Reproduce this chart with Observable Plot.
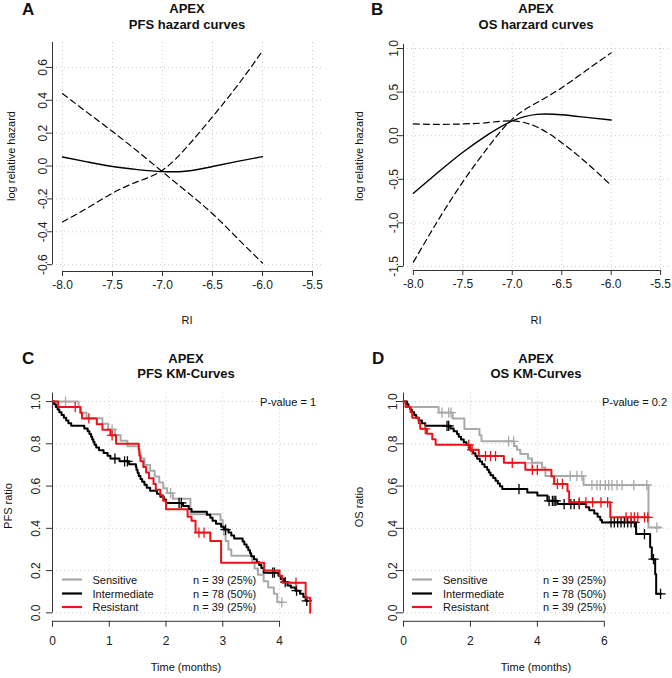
<!DOCTYPE html>
<html><head><meta charset="utf-8">
<script src="https://cdn.jsdelivr.net/npm/d3@7"></script>
<script src="https://cdn.jsdelivr.net/npm/@observablehq/plot@0.6"></script>
<style>
body{margin:0;background:#fff;}
#fig{position:relative;width:672px;height:678px;font-family:"Liberation Sans",Arial,sans-serif;}
.pw{position:absolute;}
.pw svg{display:block;}
#overlay{position:absolute;left:0;top:0;pointer-events:none;}
</style></head><body><div id="fig"></div>
<script>
// ---------- data ----------
const riGrid = [-8, -7.75, -7.5, -7.25, -7.0, -6.75, -6.5, -6.25, -6.0];
const pfsHazFit      = [0.055, 0.025, -0.003, -0.022, -0.034, -0.03, -0.003, 0.028, 0.057];
const pfsHazBandDown = [0.44, 0.325, 0.21, 0.09, -0.035, -0.16, -0.29, -0.44, -0.59];
const pfsHazBandUp   = [-0.34, -0.255, -0.165, -0.095, -0.025, 0.12, 0.30, 0.49, 0.70];
const osHazFit       = [-0.66, -0.42, -0.19, 0.01, 0.17, 0.245, 0.24, 0.21, 0.18];
const osHazBandFlat  = [0.135, 0.13, 0.135, 0.15, 0.17, 0.10, -0.08, -0.31, -0.57];
const osHazBandSteep = [-1.45, -0.97, -0.53, -0.14, 0.19, 0.38, 0.55, 0.75, 0.95];

const riTicks = [-8, -7.5, -7, -6.5, -6, -5.5];
const pfsHazTicks = [-0.6, -0.4, -0.2, 0, 0.2, 0.4, 0.6];
const osHazTicks = [-1.5, -1, -0.5, 0, 0.5, 1];
const survTicks = [0, 0.2, 0.4, 0.6, 0.8, 1];
const pfsTimeTicks = [0, 1, 2, 3, 4];
const osTimeTicks = [0, 2, 4, 6];

const groups = ["Sensitive", "Intermediate", "Resistant"];
const groupN = ["n = 39 (25%)", "n = 78 (50%)", "n = 39 (25%)"];

// PFS Kaplan-Meier (months, survival)
const pfsSensTime = [0, 0.46, 0.5, 0.6, 0.88, 0.98, 1.1, 1.2, 1.32, 1.52, 1.55, 1.62, 1.72, 1.8, 1.88, 1.95, 2.02, 2.12, 2.43, 2.96, 3.0, 3.02, 3.05, 3.1, 3.15, 3.52, 3.56, 3.62, 3.72, 3.8, 3.9, 3.96, 4.06];
const pfsSensSurv = [1, 0.974, 0.947, 0.921, 0.895, 0.868, 0.842, 0.815, 0.789, 0.76, 0.73, 0.70, 0.672, 0.645, 0.617, 0.59, 0.567, 0.54, 0.467, 0.44, 0.40, 0.37, 0.34, 0.30, 0.27, 0.24, 0.21, 0.18, 0.15, 0.12, 0.09, 0.05, 0.05];
const pfsSensCens = [0.23, 1.05, 2.08, 4.04];

const pfsIntTime = [0, 0.03, 0.06, 0.09, 0.12, 0.16, 0.2, 0.24, 0.28, 0.33, 0.56, 0.62, 0.65, 0.68, 0.7, 0.72, 0.74, 0.77, 0.82, 0.9, 0.97, 1.02, 1.18, 1.35, 1.47, 1.48, 1.5, 1.52, 1.55, 1.58, 1.62, 1.66, 1.72, 1.84, 1.9, 1.96, 2.0, 2.3, 2.4, 2.45, 2.72, 2.78, 2.82, 2.88, 2.97, 3.02, 3.1, 3.15, 3.2, 3.35, 3.38, 3.42, 3.45, 3.48, 3.5, 3.55, 3.6, 3.64, 3.68, 3.72, 3.98, 4.02, 4.08, 4.14, 4.2, 4.28, 4.36, 4.42, 4.46, 4.5];
const pfsIntSurv = [1, 0.987, 0.974, 0.962, 0.949, 0.936, 0.923, 0.91, 0.897, 0.885, 0.872, 0.859, 0.846, 0.833, 0.82, 0.808, 0.795, 0.782, 0.769, 0.756, 0.743, 0.73, 0.717, 0.703, 0.69, 0.676, 0.662, 0.648, 0.634, 0.62, 0.606, 0.592, 0.578, 0.564, 0.55, 0.536, 0.52, 0.506, 0.492, 0.478, 0.464, 0.45, 0.436, 0.422, 0.408, 0.394, 0.38, 0.366, 0.352, 0.338, 0.324, 0.31, 0.296, 0.282, 0.268, 0.254, 0.24, 0.226, 0.212, 0.19, 0.175, 0.16, 0.145, 0.13, 0.12, 0.105, 0.09, 0.075, 0.057, 0.057];
const pfsIntCens = [1.1, 1.27, 1.32, 2.23, 2.27, 3.05, 3.88, 3.91, 4.1, 4.3, 4.48];

const pfsResTime = [0, 0.1, 0.49, 0.52, 0.78, 0.88, 1.02, 1.12, 1.52, 1.53, 1.55, 1.6, 1.65, 1.7, 1.78, 1.82, 1.9, 1.95, 2.0, 2.38, 2.45, 2.52, 2.78, 2.97, 3.73, 4.0, 4.05, 4.46, 4.54];
const pfsResSurv = [1, 0.974, 0.947, 0.92, 0.893, 0.866, 0.84, 0.80, 0.773, 0.745, 0.718, 0.69, 0.664, 0.637, 0.61, 0.583, 0.556, 0.53, 0.49, 0.455, 0.436, 0.38, 0.34, 0.237, 0.20, 0.175, 0.143, 0.071, 0];
const pfsResCens = [0.4, 0.64, 1.05, 2.58, 2.67, 4.29];

// OS Kaplan-Meier (months, survival)
const osSensTime = [0, 0.12, 1.05, 1.47, 1.82, 2.27, 2.33, 3.3, 3.39, 3.49, 3.72, 3.84, 4.14, 4.24, 5.38, 7.32, 7.68];
const osSensSurv = [1, 0.974, 0.948, 0.92, 0.87, 0.84, 0.812, 0.79, 0.772, 0.752, 0.73, 0.71, 0.688, 0.648, 0.605, 0.404, 0.404];
const osSensCens = [1.15, 1.35, 1.42, 3.14, 3.29, 3.84, 4.98, 5.18, 5.33, 5.63, 5.78, 5.88, 6.03, 6.13, 6.23, 6.38, 6.53, 6.88, 7.27, 7.57];

const osIntTime = [0, 0.1, 0.15, 0.2, 0.25, 0.32, 0.38, 0.45, 0.55, 0.65, 1.4, 1.5, 1.6, 1.65, 1.72, 1.8, 1.88, 1.95, 2.0, 2.08, 2.15, 2.2, 2.28, 2.35, 2.42, 2.5, 2.55, 2.6, 2.68, 2.75, 2.82, 2.88, 2.95, 3.7, 4.0, 4.3, 4.6, 5.45, 5.55, 5.7, 5.8, 5.88, 5.93, 6.95, 7.37, 7.42, 7.52, 7.55, 7.7];
const osIntSurv = [1, 0.987, 0.974, 0.962, 0.949, 0.936, 0.923, 0.91, 0.897, 0.885, 0.872, 0.859, 0.846, 0.833, 0.82, 0.807, 0.794, 0.781, 0.768, 0.755, 0.742, 0.729, 0.716, 0.703, 0.69, 0.677, 0.664, 0.651, 0.638, 0.625, 0.612, 0.599, 0.586, 0.57, 0.555, 0.53, 0.515, 0.5, 0.485, 0.47, 0.455, 0.44, 0.428, 0.373, 0.31, 0.254, 0.183, 0.09, 0.09];
const osIntCens = [1.3, 1.35, 3.45, 4.35, 4.45, 4.5, 4.55, 4.8, 5.0, 5.1, 5.25, 6.2, 6.3, 6.4, 6.5, 6.6, 6.7, 6.8, 6.9, 7.2, 7.47, 7.68];

const osResTime = [0, 0.06, 0.21, 0.26, 0.46, 0.5, 0.7, 0.86, 0.96, 2.0, 2.25, 3.0, 3.64, 4.42, 4.5, 4.9, 4.95, 6.18, 7.35];
const osResSurv = [1, 0.974, 0.949, 0.923, 0.897, 0.871, 0.848, 0.822, 0.795, 0.772, 0.742, 0.71, 0.677, 0.645, 0.61, 0.575, 0.523, 0.452, 0.452];
const osResCens = [0.65, 1.95, 2.05, 2.45, 2.6, 2.75, 3.25, 3.85, 4.0, 4.6, 4.75, 5.25, 5.45, 5.65, 5.9, 6.1, 6.65, 6.8, 6.9, 7.0, 7.2, 7.3];

// ---------- styles ----------
const FONT = '"Liberation Sans", Arial, Helvetica, sans-serif';
const groupColors = ["#a9a9a9", "#000000", "#e8141a"];
const gridStyle = {stroke: "#cccccc", strokeOpacity: 1, strokeDasharray: "1,3"};
const axisColor = "#333333";

const ext = (lo, hi) => [lo - 0.04 * (hi - lo), hi + 0.04 * (hi - lo)];
const fmt1 = d => d.toFixed(1);

function hazardPanel(o) {
  const all = [...o.fit, ...o.bandA, ...o.bandB];
  const yDom = ext(d3.min(all), d3.max(all));
  const xDom = ext(riTicks[0], riTicks[riTicks.length - 1]);
  const pts = vals => riGrid.map((x, i) => ({x, y: vals[i]}));
  return Plot.plot({
    width: 336, height: o.height,
    marginLeft: o.ml, marginRight: o.mr, marginTop: o.mt, marginBottom: o.mb,
    x: {domain: xDom, label: null},
    y: {domain: yDom, label: null},
    style: {fontFamily: FONT, fontSize: "12px", color: "#222", background: "transparent", overflow: "visible"},
    marks: [
      Plot.gridX(riTicks, gridStyle),
      Plot.gridY(o.yTicks, gridStyle),
      Plot.ruleY([yDom[0]], {x1: riTicks[0], x2: riTicks[riTicks.length - 1], stroke: axisColor}),
      Plot.ruleX([xDom[0]], {y1: o.yTicks[0], y2: yDom[1], stroke: axisColor}),
      Plot.axisX(riTicks, {tickSize: 5, tickPadding: o.xPad, tickFormat: fmt1, label: null, stroke: axisColor}),
      Plot.axisY(o.yTicks, {tickSize: 5, tickRotate: -90, tickPadding: o.yPad, tickFormat: fmt1, label: null, stroke: axisColor}),
      Plot.line(pts(o.bandA), {x: "x", y: "y", curve: "natural", stroke: "#000", strokeWidth: 1.2, strokeDasharray: "6,4"}),
      Plot.line(pts(o.bandB), {x: "x", y: "y", curve: "natural", stroke: "#000", strokeWidth: 1.2, strokeDasharray: "6,4"}),
      Plot.line(pts(o.fit), {x: "x", y: "y", curve: "natural", stroke: "#000", strokeWidth: 1.4})
    ]
  });
}

function survAt(times, surv, t) {
  const i = Math.max(0, d3.bisectRight(times, t) - 1);
  return surv[i];
}

function kmPanel(o) {
  const tMax = d3.max(o.series, s => d3.max(s.time));
  const xDom = [0, tMax * 1.04];
  const yDom = ext(0, 1);
  const marks = [
    Plot.gridX(o.xTicks, gridStyle),
    Plot.gridY(survTicks, gridStyle),
    Plot.ruleY([yDom[0]], {x1: o.xTicks[0], x2: o.xTicks[o.xTicks.length - 1], stroke: axisColor}),
    Plot.ruleX([xDom[0]], {y1: survTicks[0], y2: yDom[1], stroke: axisColor}),
    Plot.axisX(o.xTicks, {tickSize: 6, tickPadding: o.xPad, tickFormat: d => String(d), label: null, stroke: axisColor}),
    Plot.axisY(survTicks, {tickSize: 6, tickRotate: -90, tickPadding: o.yPad, tickFormat: fmt1, label: null, stroke: axisColor})
  ];
  o.series.forEach((s, k) => {
    const pts = s.time.map((t, i) => ({t, s: s.surv[i]}));
    marks.push(Plot.line(pts, {x: "t", y: "s", curve: "step-after", stroke: groupColors[k], strokeWidth: 2}));
    const cens = s.cens.map(t => ({t, s: survAt(s.time, s.surv, t)}));
    marks.push(Plot.dot(cens, {x: "t", y: "s", symbol: "plus", r: 3.4, stroke: groupColors[k], strokeWidth: 1.3}));
  });
  return Plot.plot({
    width: 336, height: 348,
    marginLeft: o.ml, marginRight: o.mr, marginTop: 62.6, marginBottom: 57.2,
    x: {domain: xDom, label: null},
    y: {domain: yDom, label: null},
    style: {fontFamily: FONT, fontSize: "12px", color: "#222", background: "transparent", overflow: "visible"},
    marks
  });
}

const fig = document.getElementById("fig");
function place(svg, left, top) {
  const d = document.createElement("div");
  d.className = "pw"; d.style.left = left + "px"; d.style.top = top + "px";
  d.appendChild(svg); fig.appendChild(d);
}

place(hazardPanel({fit: pfsHazFit, bandA: pfsHazBandDown, bandB: pfsHazBandUp, yTicks: pfsHazTicks,
  height: 330, ml: 52, mr: 14, mt: 42, mb: 59, xPad: 4, yPad: 0.5}), 0, 0);
place(hazardPanel({fit: osHazFit, bandA: osHazBandFlat, bandB: osHazBandSteep, yTicks: osHazTicks,
  height: 330, ml: 67, mr: 2, mt: 44, mb: 60, xPad: 4, yPad: 0.5}), 336, 0);
place(kmPanel({series: [
    {time: pfsSensTime, surv: pfsSensSurv, cens: pfsSensCens},
    {time: pfsIntTime, surv: pfsIntSurv, cens: pfsIntCens},
    {time: pfsResTime, surv: pfsResSurv, cens: pfsResCens}],
  xTicks: pfsTimeTicks, ml: 52, mr: 16, xPad: 9, yPad: 7}), 0, 330);
place(kmPanel({series: [
    {time: osSensTime, surv: osSensSurv, cens: osSensCens},
    {time: osIntTime, surv: osIntSurv, cens: osIntCens},
    {time: osResTime, surv: osResSurv, cens: osResCens}],
  xTicks: osTimeTicks, ml: 67, mr: 1, xPad: 9, yPad: 1}), 336, 330);

// ---------- overlay texts (titles, labels, legends) ----------
const ov = d3.select(fig).append("svg").attr("id", "overlay")
  .attr("width", 672).attr("height", 678).style("font-family", FONT);
function txt(x, y, s, opt = {}) {
  const t = ov.append("text").attr("x", x).attr("y", y).text(s)
    .attr("font-size", opt.size || 11).attr("fill", opt.fill || "#111")
    .attr("text-anchor", opt.anchor || "middle")
    .attr("font-weight", opt.bold ? "bold" : null);
  if (opt.rotate) t.attr("transform", `rotate(-90,${x},${y})`);
  return t;
}
const panels = [
  {L: "A", lx: 22, ly: 15, cx: 187, t1y: 13, t2y: 28.5, sub: "PFS hazard curves", ylab: "log relative hazard", yx: 15, yy: 156, xlab: "RI", xy: 324},
  {L: "B", lx: 371, ly: 15, cx: 536, t1y: 13, t2y: 28.5, sub: "OS harzard curves", ylab: "log relative hazard", yx: 363, yy: 156, xlab: "RI", xy: 324},
  {L: "C", lx: 22, ly: 364, cx: 186, t1y: 363, t2y: 378, sub: "PFS KM-Curves", ylab: "PFS ratio", yx: 12, yy: 506, xlab: "Time (months)", xy: 671},
  {L: "D", lx: 372, ly: 364, cx: 536, t1y: 363, t2y: 378, sub: "OS KM-Curves", ylab: "OS ratio", yx: 363, yy: 507, xlab: "Time (months)", xy: 671}
];
panels.forEach(p => {
  txt(p.lx, p.ly, p.L, {size: 17, bold: true, anchor: "start"});
  txt(p.cx, p.t1y, "APEX", {size: 13, bold: true});
  txt(p.cx, p.t2y, p.sub, {size: 13, bold: true});
  txt(p.yx, p.yy, p.ylab, {rotate: true});
  txt(p.cx, p.xy, p.xlab);
});
txt(316, 406, "P-value = 1", {anchor: "end"});
txt(667, 406, "P-value = 0.2", {anchor: "end"});
const legendY = [579.5, 593.5, 607];
[[62, 92.5, 193], [412, 443, 543]].forEach(([x0, tx, nx]) => {
  groups.forEach((g, i) => {
    ov.append("line").attr("x1", x0).attr("x2", x0 + 20).attr("y1", legendY[i]).attr("y2", legendY[i])
      .attr("stroke", groupColors[i]).attr("stroke-width", 2.2);
    txt(tx, legendY[i] + 4, g, {anchor: "start"});
    txt(nx, legendY[i] + 4, groupN[i], {anchor: "start"});
  });
});
</script></body></html>
